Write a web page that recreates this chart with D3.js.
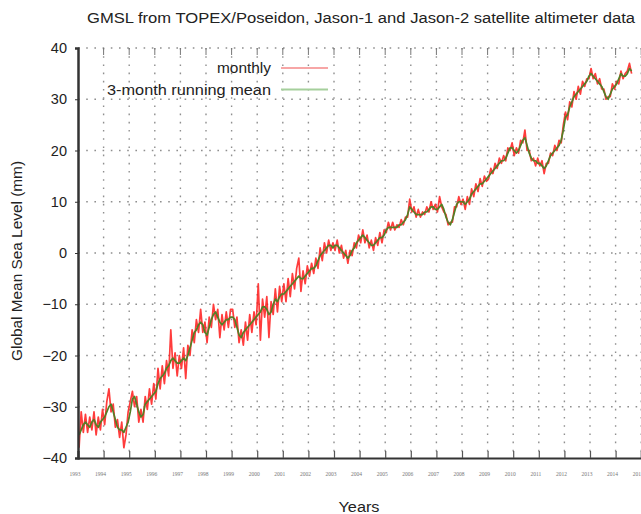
<!DOCTYPE html>
<html>
<head>
<meta charset="utf-8">
<script src="https://cdn.jsdelivr.net/npm/d3@7"></script>
<style>
  html, body { margin: 0; padding: 0; background: #fff; }
  svg { display: block; font-family: "Liberation Sans", Arial, sans-serif; }
</style>
</head>
<body>
<svg id="chart" width="641" height="514"></svg>
<script>
// Global mean sea level, monthly values (mm), starting January 1993
const startYear = 1993;
const monthly = [
  -38, -31, -35, -31.5, -35, -32, -34.5, -31, -35.5, -32, -34.5, -30.5,
  -33.5, -29, -26.5, -31, -29.5, -34, -32.5, -36, -33, -38, -35.5, -31,
  -29, -27, -30, -28, -33, -30.5, -33, -28, -30.5, -26.5, -29.5, -25.5,
  -28.5, -22.5, -26.5, -22, -25.5, -21, -24, -15, -22.5, -19.5, -24, -20,
  -22.5, -18.5, -24.5, -18, -20, -15, -17.5, -13, -15.5, -11, -15.5, -13.5,
  -17.5, -12.5, -14.5, -10, -13, -11, -16.5, -12, -15, -11.5, -14.5, -11,
  -11, -14.5, -12.5, -17.5, -15, -18, -13.5, -17, -12, -15.5, -11.5, -14,
  -6, -17, -9, -12.5, -8.5, -16.5, -9.5, -12, -7, -11.5, -6.5, -9.5,
  -6, -9.5, -5, -8.5, -4, -7, -3, -1, -7.5, -3.5, -6, -2.5,
  -4.5, -2, -4, -1, -3, 1, -1.5, 2, 0, 2.5, 0.5, 2,
  0.5, 2.5, 0, 1.5, -1, 0.5, -2, 0.5, -0.5, 2, 1, 3.5,
  2, 4.5, 2, 3.5, 1, 2.5, 0.5, 3, 1.5, 4, 2, 4.5,
  4, 6, 4.5, 6, 4.5, 5.5, 5, 6.5, 5.5, 7, 7, 10.5,
  8, 9, 7, 8.5, 7, 8, 7.5, 9, 8, 10, 8.5, 9.5,
  8, 11, 9, 8, 7.5, 5.5, 6, 6, 9, 9, 11, 9.5,
  10.5, 8.5, 11, 9.5, 12.5, 11, 13.5, 12, 14.5, 13, 15, 14,
  14.5, 16.5, 15.5, 17.5, 16.5, 18.5, 17.5, 19, 18, 20.5, 20, 21.5,
  19, 20.5, 19.5, 22, 21.5, 24, 20, 20, 18, 18.5, 17, 18.5,
  17, 18, 15.5, 17.5, 17.5, 19.5, 19, 21, 20, 22, 21.5, 25,
  27.5, 26, 29.5, 28.5, 31.5, 30, 32.5, 31, 33.5, 32.5, 34, 34,
  36, 34, 35, 33, 34, 32, 32, 30, 30.5, 30.5, 33, 32,
  33.5, 33, 35.5, 34, 35, 35.5, 37, 35
];
// 3-month running mean (mm), same months
const runningMean = [
  -35.5, -34.5, -33.5, -33, -33.5, -34, -33, -32.5, -33.5, -34, -33, -32.5,
  -32, -31, -30, -29.5, -31, -32.5, -34, -34.5, -34.5, -35, -34, -33,
  -31, -28.5, -28, -29.5, -31, -32, -31.5, -29.5, -29, -28.5, -28, -27.5,
  -27, -25.5, -24.5, -24, -23.5, -22.5, -22, -21, -20.5, -21, -21.5, -21.5,
  -21, -20.5, -21, -20, -18.5, -17, -15.5, -15, -14, -13.5, -14, -15.5,
  -16, -14.5, -13, -12, -11.5, -12.5, -13.5, -14, -13.5, -13, -13, -12.5,
  -12.5, -13, -14.5, -16, -16.5, -15.5, -15, -14.5, -14, -13.5, -13, -12.5,
  -12, -11.5, -10.5, -10.5, -11, -12, -11.5, -10, -9, -9.5, -8.5, -8,
  -8, -7.5, -7, -6.5, -6, -5.5, -5, -4.5, -5, -5, -4.5, -4,
  -3.5, -3, -3, -2.5, -1.5, -0.5, 0, 0.5, 1, 1.5, 1.5, 1,
  1.5, 1.5, 1, 0.5, 0, -0.5, -1, -0.5, 0.5, 1, 2, 2.5,
  3, 3.5, 3, 2.5, 2, 1.5, 1.5, 2, 2.5, 3, 3, 3.5,
  4.5, 5, 5, 5, 5, 5, 5.5, 5.5, 6, 6.5, 7.5, 9,
  8.5, 8, 7.5, 7.5, 7.5, 7.5, 8, 8, 8.5, 9, 9, 8.5,
  8.5, 9, 9.5, 8.5, 7, 6, 5.5, 6.5, 8, 9.5, 10, 10,
  10, 9.5, 10, 10.5, 11.5, 12, 12.5, 13, 13.5, 13.5, 14, 14.5,
  15, 15.5, 16, 16.5, 17, 17.5, 18, 18, 18.5, 19.5, 20.5, 20.5,
  20, 19.5, 20, 21, 22, 22.5, 21, 19.5, 18.5, 18, 18, 17.5,
  17.5, 17, 16.5, 17, 18, 19, 19.5, 20, 20.5, 21, 22, 24,
  26.5, 27, 28.5, 29.5, 30.5, 31, 31.5, 32, 32.5, 33, 33.5, 34.5,
  35, 34.5, 34, 33.5, 33, 32.5, 31.5, 30.5, 30, 31, 32, 32.5,
  33, 34, 35, 34.5, 34.5, 35, 36, 35.5
];
const yearTicks = d3.range(1993, 2016);
const levelTicks = [-40, -30, -20, -10, 0, 10, 20, 30, 40];
const seriesNames = ["monthly", "3-month running mean"];

const svg = d3.select("#chart");
const plotLeft = 78, plotRight = 641.2, plotTop = 48, plotBottom = 458;

const x = d3.scaleLinear().domain([1993, 2015]).range([plotLeft, plotRight]);
const y = d3.scaleLinear().domain([-40, 40]).range([plotBottom, plotTop]);
const t = i => startYear + (i + 0.5) / 12;

// dotted grid
svg.append("g").selectAll("line").data(yearTicks.slice(1)).join("line")
  .attr("x1", d => x(d)).attr("x2", d => x(d)).attr("y1", plotTop).attr("y2", plotBottom)
  .attr("stroke", "#8f8f8f").attr("stroke-width", 1.4).attr("stroke-dasharray", "1.6,6.6");
svg.append("g").selectAll("line").data(levelTicks.slice(1)).join("line")
  .attr("x1", plotLeft).attr("x2", plotRight).attr("y1", d => y(d)).attr("y2", d => y(d))
  .attr("stroke", "#8f8f8f").attr("stroke-width", 1.4).attr("stroke-dasharray", "1.6,6.6");

// tick marks along the top edge
svg.append("g").selectAll("line").data(yearTicks.slice(1)).join("line")
  .attr("x1", d => x(d)).attr("x2", d => x(d)).attr("y1", plotTop).attr("y2", plotTop + 7)
  .attr("stroke", "#777").attr("stroke-width", 1);

// data lines
const line = d3.line().x((d, i) => x(t(i))).y(d => y(d));
svg.append("path").datum(monthly).attr("d", line)
  .attr("fill", "none").attr("stroke", "#ff1a1a").attr("stroke-opacity", 0.85)
  .attr("stroke-width", 1.7).attr("stroke-linejoin", "round");
svg.append("path").datum(runningMean).attr("d", line)
  .attr("fill", "none").attr("stroke", "#537f26").attr("stroke-width", 1.7)
  .attr("stroke-linejoin", "round");

// bottom axis
const xAxis = svg.append("g").attr("transform", `translate(0,${plotBottom})`)
  .call(d3.axisBottom(x).tickValues(yearTicks).tickFormat(d3.format("d")).tickSize(-7).tickPadding(14));
xAxis.select(".domain").attr("stroke", "#333").attr("stroke-width", 2);
xAxis.selectAll(".tick line").attr("stroke", "#555").attr("stroke-width", 1.2);
xAxis.selectAll(".tick text").attr("font-size", 5.5).attr("fill", "#777")
  .attr("dx", -3.5).attr("font-family", "Liberation Serif, serif");

// left axis
const yAxis = svg.append("g").attr("transform", `translate(${plotLeft},0)`)
  .call(d3.axisLeft(y).tickValues(levelTicks).tickSize(3).tickPadding(8));
yAxis.select(".domain").attr("stroke", "#333").attr("stroke-width", 2.5);
yAxis.selectAll(".tick line").attr("stroke", "#333");
yAxis.selectAll(".tick text").attr("font-size", 14.5).attr("fill", "#222")
  .attr("font-family", "Liberation Sans, Arial, sans-serif");

// titles
svg.append("text").attr("x", 361).attr("y", 23).attr("text-anchor", "middle")
  .attr("font-size", 14).attr("fill", "#222")
  .attr("textLength", 548).attr("lengthAdjust", "spacingAndGlyphs")
  .text("GMSL from TOPEX/Poseidon, Jason-1 and Jason-2 satellite altimeter data");
svg.append("text").attr("transform", "translate(22,261) rotate(-90)")
  .attr("text-anchor", "middle").attr("font-size", 14).attr("fill", "#222")
  .attr("textLength", 200).attr("lengthAdjust", "spacingAndGlyphs")
  .text("Global Mean Sea Level (mm)");
svg.append("text").attr("x", 359).attr("y", 512).attr("text-anchor", "middle")
  .attr("font-size", 14).attr("fill", "#222")
  .attr("textLength", 41).attr("lengthAdjust", "spacingAndGlyphs").text("Years");

// legend
const legendColors = ["#f7a6a6", "#a5cf9c"];
const legendWidths = [54, 164];
const legend = svg.append("g");
seriesNames.forEach((name, i) => {
  const ly = 68 + i * 21.5;
  legend.append("text").attr("x", 271).attr("y", ly + 5).attr("text-anchor", "end")
    .attr("font-size", 14).attr("fill", "#222")
    .attr("textLength", legendWidths[i]).attr("lengthAdjust", "spacingAndGlyphs").text(name);
  legend.append("line").attr("x1", 281).attr("x2", 328).attr("y1", ly).attr("y2", ly)
    .attr("stroke", legendColors[i]).attr("stroke-width", 2.2);
});
</script>
</body>
</html>
